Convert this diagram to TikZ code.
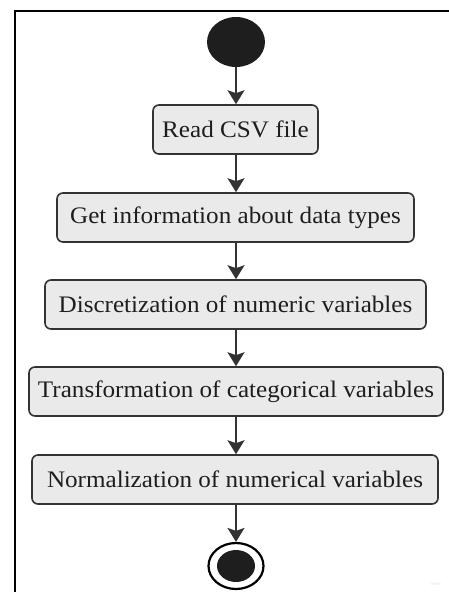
\documentclass[tikz,border=0pt]{standalone}
\usepackage{fontspec}
\setmainfont{Liberation Serif}
\usetikzlibrary{arrows.meta,shapes.geometric}
\definecolor{boxfill}{HTML}{EAEAEA}
\definecolor{edge}{HTML}{333333}
\definecolor{ink}{HTML}{1E1E1E}
\tikzset{
  stepbox/.style={draw=edge, fill=boxfill, line width=1.6pt, rounded corners=6pt,
    minimum height=49pt, inner sep=0pt, text=ink,
    font=\fontsize{23.7}{26}\selectfont},
  flow/.style={draw=edge, line width=2pt, -{Stealth[length=14pt,width=17pt,inset=3pt]}},
}
\newcommand{\wide}[1]{\scalebox{1.06}[1]{#1}}
\begin{document}
\begin{tikzpicture}[x=1pt,y=1pt]
\useasboundingbox (0,0) rectangle (449,-592);
\fill[white] (0,0) rectangle (449,-592);
\draw[line width=2.5pt, black] (449,-11) -- (15,-11) -- (15,-593);
\node[ellipse, fill=ink, minimum width=58pt, minimum height=50pt, inner sep=0pt] (start) at (236,-42) {};
\node[stepbox, minimum width=165pt] (b1) at (235.5,-129.5) {\wide{Read CSV file}};
\node[stepbox, minimum width=357pt] (b2) at (235.5,-217.5) {\wide{Get information about data types}};
\node[stepbox, minimum width=381pt] (b3) at (235.5,-304.5) {\wide{Discretization of numeric variables}};
\node[stepbox, minimum width=414pt] (b4) at (236,-391.5) {\wide{Transformation of categorical variables}};
\node[stepbox, minimum width=406pt] (b5) at (235,-479.5) {\wide{Normalization of numerical variables}};
\node[ellipse, draw=black, line width=2.2pt, fill=white, minimum width=55pt, minimum height=46pt, inner sep=0pt] (end) at (236,-566) {};
\node[ellipse, fill=ink, minimum width=38pt, minimum height=32pt, inner sep=0pt] (endin) at (end.center) {};
\draw[flow] (start.south) -- (b1.north -| start.south);
\draw[flow] (b1.south -| start.south) -- (b2.north -| start.south);
\draw[flow] (b2.south -| start.south) -- (b3.north -| start.south);
\draw[flow] (b3.south -| start.south) -- (b4.north -| start.south);
\draw[flow] (b4.south -| start.south) -- (b5.north -| start.south);
\draw[flow] (b5.south -| start.south) -- (end.north);
\node[text=gray!25, font=\fontsize{5}{6}\sffamily] (wm) at (436,-584) {miro};
\end{tikzpicture}
\end{document}
